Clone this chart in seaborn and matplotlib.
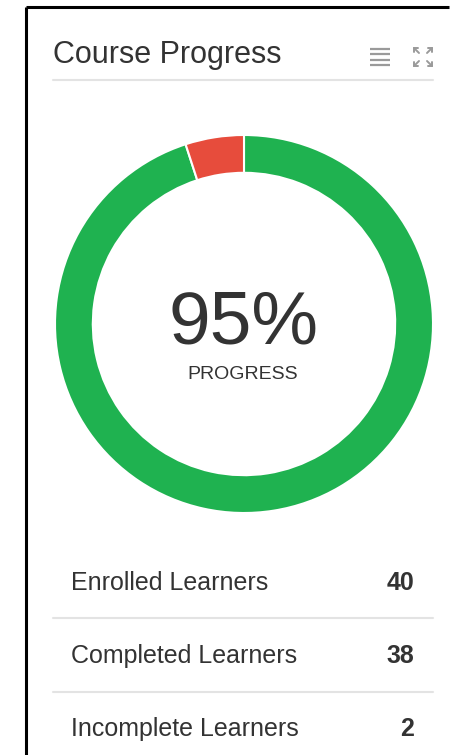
import matplotlib
matplotlib.use("Agg")
import matplotlib.pyplot as plt
import seaborn as sns

# Card contents
title = "Course Progress"
row_labels = ["Enrolled Learners", "Completed Learners", "Incomplete Learners"]
row_values = [40, 38, 2]
slice_values = [38, 2]          # completed, incomplete
slice_colors = ["#1fb250", "#e74c3c"]
center_caption = "PROGRESS"

sns.set_theme(style="white")
plt.rcParams['font.family'] = ['Liberation Sans', 'DejaVu Sans']

text_color = "#333333"
line_color = "#e3e3e3"

fig = plt.figure(figsize=(4.5, 7.55), dpi=100)

# Background axes in pixel coordinates for the card layout
bg = fig.add_axes([0, 0, 1, 1])
bg.set_xlim(0, 450)
bg.set_ylim(755, 0)
bg.axis("off")

# Card border (left and top)
bg.plot([26, 26], [6.5, 755], color="black", lw=2.2, solid_capstyle="butt")
bg.plot([26, 449], [6.5, 6.5], color="black", lw=2.2, solid_capstyle="butt")

# Header
bg.text(53, 63, title, fontsize=22, color=text_color, va="baseline", ha="left")
bg.plot([53, 433], [80, 80], color=line_color, lw=1.5)

# Menu icon (four bars)
for y in [48.5, 54, 59.5, 65]:
    bg.plot([370, 390], [y, y], color="#9a9a9a", lw=1.6, solid_capstyle="butt")

# Expand icon (four corner arrows)
icon_col = "#9a9a9a"
for (cx, cy, dx, dy) in [(414, 48, 1, 1), (432, 48, -1, 1), (414, 66, 1, -1), (432, 66, -1, -1)]:
    bg.plot([cx, cx + 5 * dx], [cy, cy + 5 * dy], color=icon_col, lw=1.4)
    bg.plot([cx, cx + 4 * dx], [cy, cy], color=icon_col, lw=1.4)
    bg.plot([cx, cx], [cy, cy + 4 * dy], color=icon_col, lw=1.4)

# Donut chart
pie_ax = fig.add_axes([55 / 450, (755 - 513) / 755, 378 / 450, 378 / 755])
pie_ax.pie(
    slice_values,
    colors=slice_colors,
    startangle=90,
    counterclock=False,
    radius=1.0,
    wedgeprops=dict(width=0.2, edgecolor="white", linewidth=1.5),
)
pie_ax.set_xlim(-1.0, 1.0)
pie_ax.set_ylim(-1.0, 1.0)
pie_ax.set_aspect("equal")
pie_ax.axis("off")

pct = round(100 * slice_values[0] / sum(slice_values))
bg.text(243, 343, f"{pct}%", fontsize=54, color=text_color, ha="center", va="baseline")
bg.text(243, 379, center_caption, fontsize=14, color=text_color, ha="center", va="baseline")

# Summary rows
baselines = [590, 663, 736]
for label, value, yb in zip(row_labels, row_values, baselines):
    bg.text(71, yb, label, fontsize=18, color=text_color, ha="left", va="baseline")
    bg.text(414, yb, str(value), fontsize=18, color=text_color, ha="right",
            va="baseline", fontweight="bold")
for y in [618, 692]:
    bg.plot([53, 433], [y, y], color=line_color, lw=1.5)

fig.savefig("out.png", dpi=100, facecolor="white")
